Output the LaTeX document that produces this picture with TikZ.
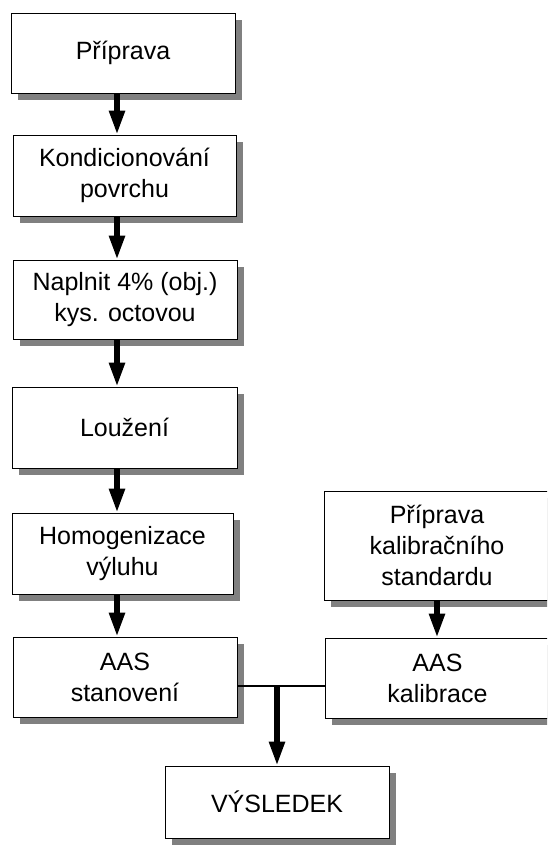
\documentclass[tikz,border=0pt]{standalone}
\usepackage{fontspec}
\setmainfont{Liberation Sans}
\usetikzlibrary{arrows.meta,shadows}
\begin{document}
\begin{tikzpicture}[x=1pt,y=-1pt,
  box/.style={draw=black, line width=0.9pt, fill=white, inner sep=0pt, align=center,
    font=\fontsize{25}{31}\selectfont,
    drop shadow={shadow xshift=7pt, shadow yshift=-7pt, fill=black!50, opacity=1}},
  arr/.style={line width=5.5pt, -{Triangle[length=24pt,width=15pt]}},
  bar/.style={line width=2.7pt}]
\useasboundingbox (0,0) rectangle (547,850);
\clip (0,0) rectangle (547,850);
\fill[white] (0,0) rectangle (547,850);
\coordinate (ax) at (117,0);
\coordinate (j) at (277,686);
\node[box, minimum width=224pt, minimum height=80pt] (b1) at (123,53) {Příprava};
\node[box, minimum width=223pt, minimum height=81pt] (b2) at (124.5,175.5) {Kondicionování\\povrchu};
\node[box, minimum width=224pt, minimum height=79pt] (b3) at (125,299.5) {Naplnit 4\% (obj.)\\kys. octovou};
\node[box, minimum width=225pt, minimum height=81pt] (b4) at (124.5,427.5) {Loužení};
\node[box, minimum width=221pt, minimum height=81pt] (b5) at (122.5,553.5) {Homogenizace\\výluhu};
\node[box, minimum width=224pt, minimum height=80pt] (b6) at (125,677) {AAS\\stanovení};
\node[box, minimum width=226pt, minimum height=109pt] (r1) at (437,545.5) {Příprava\\kalibračního\\standardu};
\node[box, minimum width=225pt, minimum height=80pt] (r2) at (437.5,678) {AAS\\kalibrace};
\node[box, minimum width=224pt, minimum height=72pt] (v) at (277,802) {VÝSLEDEK};
\draw[arr] (b1.south -| ax) -- (b2.north -| ax);
\draw[arr] (b2.south -| ax) -- (b3.north -| ax);
\draw[arr] (b3.south -| ax) -- (b4.north -| ax);
\draw[arr] (b4.south -| ax) -- (b5.north -| ax);
\draw[arr] (b5.south -| ax) -- (b6.north -| ax);
\draw[arr] (r1.south) -- (r1.south |- r2.north);
\draw[bar] (b6.east |- j) -- (r2.west |- j);
\draw[arr] (j) -- (v.north);
\end{tikzpicture}
\end{document}
